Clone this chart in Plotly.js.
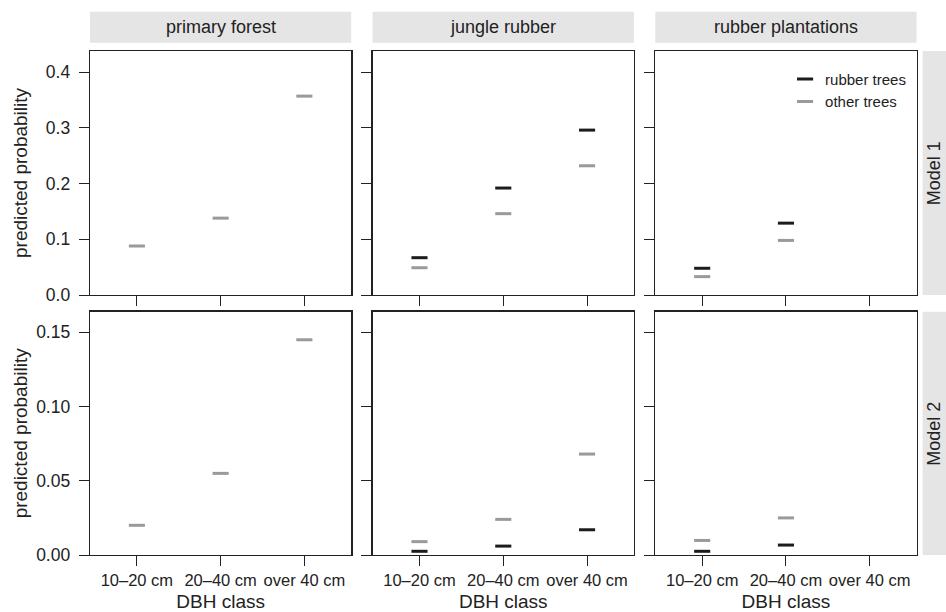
<!DOCTYPE html>
<html>
<head>
<meta charset="utf-8">
<script src="https://cdn.plot.ly/plotly-3.0.1.min.js"></script>
<style>html,body{margin:0;padding:0;background:#fff;}#chart{width:946px;height:612px;}</style>
</head>
<body>
<div id="chart"></div>
<script>
// ---- data ----
const categories = ['10\u201320 cm', '20\u201340 cm', 'over 40 cm'];
const habitats = ['primary forest', 'jungle rubber', 'rubber plantations'];
const models = ['Model 1', 'Model 2'];
const seriesNames = ['rubber trees', 'other trees'];

// Model 1 predicted probabilities
const m1Rubber_primary = [null, null, null];
const m1Other_primary = [0.088, 0.138, 0.357];
const m1Rubber_jungle = [0.067, 0.192, 0.296];
const m1Other_jungle = [0.049, 0.146, 0.232];
const m1Rubber_plant = [0.048, 0.129, null];
const m1Other_plant = [0.033, 0.098, null];

// Model 2 predicted probabilities
const m2Rubber_primary = [null, null, null];
const m2Other_primary = [0.020, 0.055, 0.145];
const m2Rubber_jungle = [0.0025, 0.006, 0.017];
const m2Other_jungle = [0.009, 0.024, 0.068];
const m2Rubber_plant = [0.0025, 0.0067, null];
const m2Other_plant = [0.0098, 0.025, null];

const yTicksM1 = [0, 0.1, 0.2, 0.3, 0.4];
const yTicksM2 = [0, 0.05, 0.10, 0.15];

// ---- build ----
const panels = [
  [m1Rubber_primary, m1Other_primary], [m1Rubber_jungle, m1Other_jungle], [m1Rubber_plant, m1Other_plant],
  [m2Rubber_primary, m2Other_primary], [m2Rubber_jungle, m2Other_jungle], [m2Rubber_plant, m2Other_plant]
];
const colors = ['#1c1c1c', '#9a9a9a'];
const FONT = 'Liberation Sans, Arial, Helvetica, sans-serif';
const INK = '#222';

const traces = [];
const legendShown = [false, false];
panels.forEach((p, i) => {
  const ax = i === 0 ? '' : String(i + 1);
  p.forEach((vals, s) => {
    if (vals.every(v => v === null)) return;
    const show = !legendShown[s];
    legendShown[s] = true;
    traces.push({
      type: 'scatter', mode: 'markers',
      x: categories, y: vals,
      xaxis: 'x' + ax, yaxis: 'y' + ax,
      name: seriesNames[s], legendgroup: seriesNames[s], showlegend: show,
      legendrank: s,
      cliponaxis: false,
      marker: {symbol: 'line-ew', size: 11.5, color: colors[s], line: {color: colors[s], width: 3}},
      hoverinfo: 'x+y'
    });
  });
});

const xDomains = [[0, 0.3052], [0.3301, 0.6355], [0.6604, 0.9656]];
const yDomains = [[0.4779, 0.9265], [0, 0.4472]];
const yRanges = [[0, 0.438], [0, 0.1639]];

const layout = {
  width: 946, height: 612,
  margin: {l: 90, r: 0, t: 11, b: 57},
  paper_bgcolor: '#fff', plot_bgcolor: '#fff',
  font: {family: FONT, color: INK, size: 17},
  showlegend: true,
  legend: {
    x: 0.812, y: 0.905, xanchor: 'left', yanchor: 'top',
    bgcolor: 'rgba(0,0,0,0)', borderwidth: 0,
    font: {family: FONT, size: 15, color: INK},
    tracegroupgap: 0, traceorder: 'normal'
  },
  shapes: [], annotations: []
};

for (let r = 0; r < 2; r++) {
  for (let c = 0; c < 3; c++) {
    const i = r * 3 + c;
    const ax = i === 0 ? '' : String(i + 1);
    layout['xaxis' + ax] = {
      domain: xDomains[c], anchor: 'y' + ax, type: 'category',
      range: [-0.56, 2.56], showgrid: false, zeroline: false,
      showline: true, mirror: true, linecolor: INK, linewidth: 1.3,
      ticks: 'outside', ticklen: 10, tickcolor: INK, tickwidth: 1,
      showticklabels: r === 1, tickfont: {family: FONT, size: 16.5, color: INK},
      ticklabelstandoff: 0,
      title: r === 1 ? {text: 'DBH class', font: {family: FONT, size: 19, color: INK}, standoff: 9} : {text: ''},
      fixedrange: true
    };
    layout['yaxis' + ax] = {
      domain: yDomains[r], anchor: 'x' + ax,
      range: yRanges[r], showgrid: false, zeroline: false,
      showline: true, mirror: true, linecolor: INK, linewidth: 1.3,
      ticks: 'outside', ticklen: 10, tickcolor: INK, tickwidth: 1,
      tickmode: 'array', tickvals: r === 0 ? yTicksM1 : yTicksM2,
      tickformat: r === 0 ? '.1f' : '.2f',
      showticklabels: c === 0, tickfont: {family: FONT, size: 17.5, color: INK},
      ticklabelstandoff: 5,
      title: c === 0 ? {text: 'predicted probability', font: {family: FONT, size: 19, color: INK}, standoff: r === 0 ? 13 : 3} : {text: ''},
      fixedrange: true
    };
  }
}

// column strips
habitats.forEach((h, c) => {
  const ax = c === 0 ? '' : String(c + 1);
  layout.shapes.push({type: 'rect', xref: 'x' + ax + ' domain', yref: 'paper', x0: 0, x1: 1, y0: 0.9417, y1: 0.9987,
    fillcolor: '#e5e5e5', line: {width: 0}, layer: 'below'});
  layout.annotations.push({xref: 'x' + ax + ' domain', yref: 'paper', x: 0.5, y: 0.9702, text: h, showarrow: false,
    xanchor: 'center', yanchor: 'middle', font: {family: FONT, size: 18, color: INK}});
});
// row strips
models.forEach((m, r) => {
  const ax = r === 0 ? '' : '4';
  layout.shapes.push({type: 'rect', xref: 'paper', yref: 'y' + ax + ' domain', x0: 0.9727, x1: 1.0, y0: 0, y1: 1,
    fillcolor: '#e5e5e5', line: {width: 0}, layer: 'below'});
  layout.annotations.push({xref: 'paper', yref: 'y' + ax + ' domain', x: 0.9864, y: 0.5, text: m, showarrow: false,
    textangle: -90, xanchor: 'center', yanchor: 'middle', font: {family: FONT, size: 18, color: INK}});
});

Plotly.newPlot('chart', traces, layout, {displayModeBar: false, staticPlot: true});
</script>
</body>
</html>
